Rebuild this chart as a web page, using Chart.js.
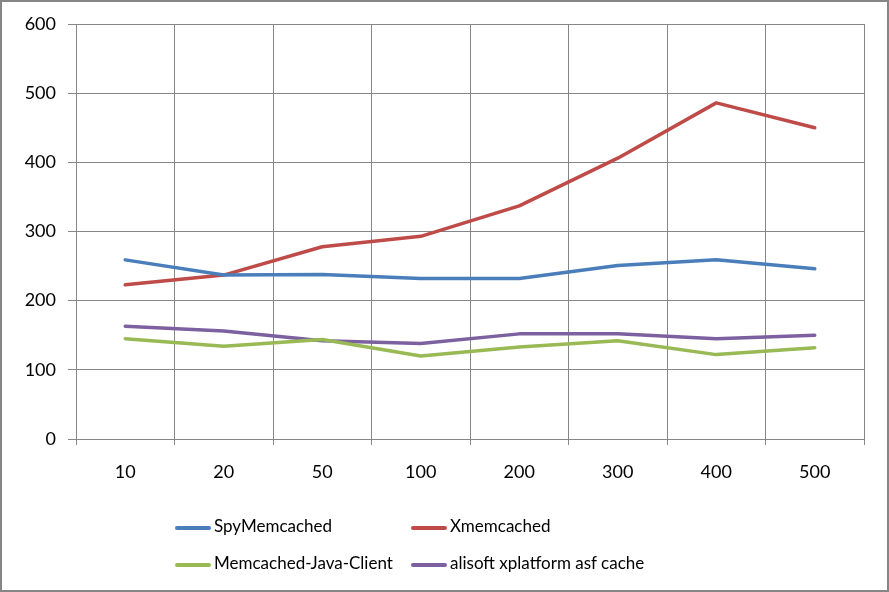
<!DOCTYPE html>
<html>
<head>
<meta charset="utf-8">
<script src="https://cdn.jsdelivr.net/npm/chart.js"></script>
<style>
  body { margin: 0; background: #fff; }
  #wrap { position: relative; width: 889px; height: 592px; }
  #frame { position: absolute; left: 0; top: 0; width: 885px; height: 588px; border: 2px solid #868686; pointer-events: none; }
  #legend { position: absolute; left: 0; top: 0; font-family: Lato, sans-serif; font-size: 17px; color: #000; }
  .item { position: absolute; white-space: nowrap; height: 20px; line-height: 20px; }
  .item span.sw { display: inline-block; width: 36px; height: 4px; vertical-align: middle; margin-right: 3px; border-radius: 2px; }
</style>
</head>
<body>
<div id="wrap">
  <canvas id="perfChart" width="889" height="592"></canvas>
  <div id="legend"></div>
  <div id="frame"></div>
</div>
<script>
const xLabels = ["10", "20", "50", "100", "200", "300", "400", "500"];
const spyValues = [259, 237, 238, 232, 232, 251, 259, 246];
const xmemValues = [223, 237, 278, 293, 337, 406, 486, 450];
const javaClientValues = [145, 134, 144, 120, 133, 142, 122, 132];
const alisoftValues = [163, 156, 142, 138, 152, 152, 145, 150];
const seriesNames = ["SpyMemcached", "Xmemcached", "Memcached-Java-Client", "alisoft xplatform asf cache"];
const seriesColors = ["#4A7EBB", "#BE4B48", "#98B954", "#7D60A0"];

const gridColor = "#868686";

function lineSet(i, values) {
  return {
    label: seriesNames[i],
    data: values,
    borderColor: seriesColors[i],
    backgroundColor: seriesColors[i],
    borderWidth: 3.5,
    borderCapStyle: "round",
    borderJoinStyle: "round",
    pointRadius: 0,
    tension: 0,
    fill: false
  };
}

new Chart("perfChart", {
  type: "line",
  data: {
    labels: xLabels,
    datasets: [
      lineSet(0, spyValues),
      lineSet(1, xmemValues),
      lineSet(2, javaClientValues),
      lineSet(3, alisoftValues)
    ]
  },
  options: {
    responsive: false,
    animation: false,
    layout: { padding: { left: 0, right: 25, top: 24, bottom: 103 } },
    plugins: {
      legend: { display: false },
      tooltip: { enabled: false }
    },
    scales: {
      x: {
        offset: true,
        grid: { offset: true, color: gridColor, lineWidth: 1, tickLength: 6 },
        border: { color: gridColor, width: 1 },
        ticks: { color: "#000", padding: 16, font: { family: "Lato", size: 18 } },
        afterFit: function (scale) { scale.height = 50; }
      },
      y: {
        min: 0,
        max: 600,
        ticks: { stepSize: 100, color: "#000", padding: 12, font: { family: "Lato", size: 18 } },
        grid: { color: gridColor, lineWidth: 1, tickLength: 8 },
        border: { color: gridColor, width: 1 },
        afterFit: function (scale) { scale.width = 76; }
      }
    }
  }
});

// legend, laid out in two rows of two like the original
const legendSpots = [[175, 516], [411, 516], [175, 553], [411, 553]];
const legendBox = document.getElementById("legend");
seriesNames.forEach(function (name, i) {
  const div = document.createElement("div");
  div.className = "item";
  div.style.left = legendSpots[i][0] + "px";
  div.style.top = legendSpots[i][1] + "px";
  div.innerHTML = '<span class="sw" style="background:' + seriesColors[i] + '"></span>' + name;
  legendBox.appendChild(div);
});
</script>
</body>
</html>
